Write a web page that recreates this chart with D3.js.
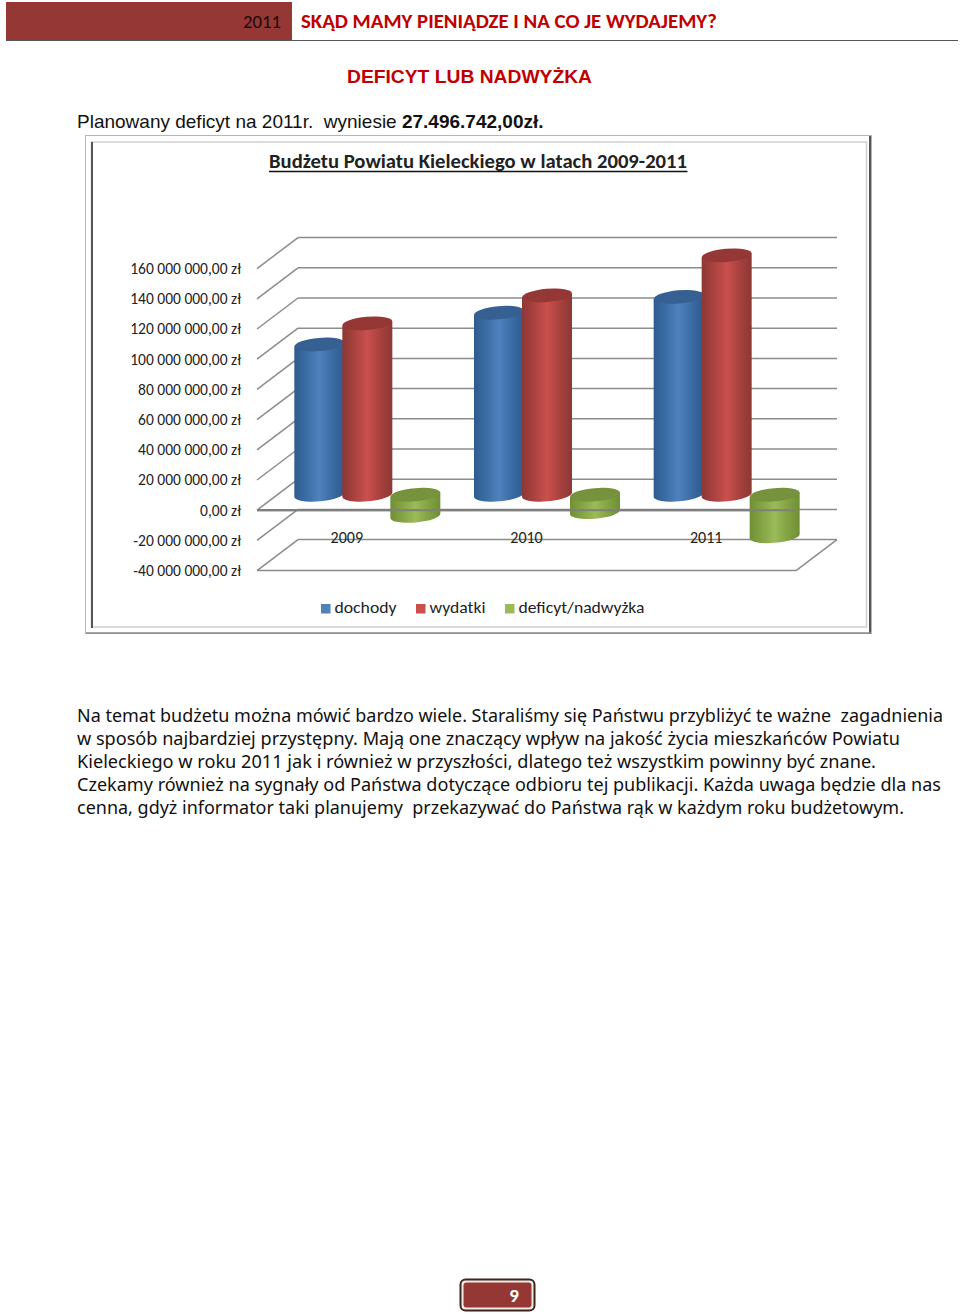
<!DOCTYPE html>
<html><head><meta charset="utf-8">
<script src="https://cdn.jsdelivr.net/npm/d3@7"></script>
<style>html,body{margin:0;padding:0;background:#fff}svg{display:block}</style></head>
<body><svg id="c" width="960" height="1316"></svg>
<script>
const years = ["2009","2010","2011"];
const seriesNames = ["dochody","wydatki","deficyt/nadwyżka"];
const dochody = [99.5,120.5,131];
const wydatki = [113.5,132,158.5];
const deficyt = [-14,-11.5,-27.5];
const tickValues = [160,140,120,100,80,60,40,20,0,-20,-40];
const tickLabels = ["160 000 000,00 zł","140 000 000,00 zł","120 000 000,00 zł","100 000 000,00 zł","80 000 000,00 zł","60 000 000,00 zł","40 000 000,00 zł","20 000 000,00 zł","0,00 zł","-20 000 000,00 zł","-40 000 000,00 zł"];
const bodyLines = [
"Na temat budżetu można mówić bardzo wiele. Staraliśmy się Państwu przybliżyć te ważne  zagadnienia",
"w sposób najbardziej przystępny. Mają one znaczący wpływ na jakość życia mieszkańców Powiatu",
"Kieleckiego w roku 2011 jak i również w przyszłości, dlatego też wszystkim powinny być znane.",
"Czekamy również na sygnały od Państwa dotyczące odbioru tej publikacji. Każda uwaga będzie dla nas",
"cenna, gdyż informator taki planujemy  przekazywać do Państwa rąk w każdym roku budżetowym."];
const bodyWidths = [866,823,799,864,827];

const svg = d3.select("#c");
const defs = svg.append("defs");
const CAL = "Carlito, Lato, 'Open Sans', sans-serif";
const BODY = "'Noto Sans','DejaVu Sans',sans-serif";
const ARIAL = "'Liberation Sans',Arial,sans-serif";

function fit(t,w){t.attr("textLength",w).attr("lengthAdjust","spacingAndGlyphs");return t;}

// header
svg.append("rect").attr("x",6).attr("y",2).attr("width",286).attr("height",38).attr("fill","#953735");
svg.append("line").attr("x1",6).attr("x2",958).attr("y1",40.5).attr("y2",40.5).attr("stroke","#555").attr("stroke-width",1);
fit(svg.append("text").attr("x",243).attr("y",28).attr("font-family",CAL).attr("font-size",18).attr("fill","#1a0a0a").text("2011"),38);
fit(svg.append("text").attr("x",301).attr("y",28).attr("font-family",CAL).attr("font-weight",700).attr("font-size",20).attr("fill","#c00000").text("SKĄD MAMY PIENIĄDZE I NA CO JE WYDAJEMY?"),416);
fit(svg.append("text").attr("x",347).attr("y",83).attr("font-family",ARIAL).attr("font-weight",700).attr("font-size",19).attr("fill","#c00000").text("DEFICYT LUB NADWYŻKA"),245);
const pl = svg.append("text").attr("x",77).attr("y",128).attr("font-family",ARIAL).attr("font-size",19).attr("fill","#111");
pl.append("tspan").text("Planowany deficyt na 2011r.  wyniesie ").attr("xml:space","preserve");
pl.append("tspan").attr("font-weight",700).text("27.496.742,00zł.");
pl.style("white-space","pre");

// frame
svg.append("rect").attr("x",85.5).attr("y",135.5).attr("width",786).attr("height",498).attr("fill","#fff").attr("stroke","#b5b5b5").attr("stroke-width",1);
svg.append("rect").attr("x",91.5).attr("y",142).attr("width",775).attr("height",485).attr("fill","#fff").attr("stroke","#d0d0d0").attr("stroke-width",1.5);
svg.append("line").attr("x1",92).attr("x2",92).attr("y1",142).attr("y2",628).attr("stroke","#555").attr("stroke-width",2);
svg.append("line").attr("x1",870).attr("x2",870).attr("y1",136).attr("y2",634).attr("stroke","#555").attr("stroke-width",2);
svg.append("line").attr("x1",86).attr("x2",871).attr("y1",633).attr("y2",633).attr("stroke","#888").attr("stroke-width",1.5);

// title
const title = fit(svg.append("text").attr("x",269).attr("y",168).attr("font-family",CAL).attr("font-size",20).attr("font-weight",700).attr("fill","#222").text("Budżetu Powiatu Kieleckiego w latach 2009-2011"),418);
svg.append("line").attr("x1",269).attr("x2",687.5).attr("y1",171.5).attr("y2",171.5).attr("stroke","#111").attr("stroke-width",1.6);

// scales (front plane of the 3D box)
const y = d3.scaleLinear().domain([-40,160]).range([570.6,268.6]);
const x = d3.scaleBand().domain(years).range([257,796]);
const sub = d3.scaleBand().domain(seriesNames).range([-72,72]);
const depthX = 41, depthY = 31;

const grid = svg.append("g").attr("fill","none").attr("stroke","#8c8c8c").attr("stroke-width",1.5);
tickValues.forEach(v=>{
  grid.append("line").attr("x1",257).attr("y1",y(v)).attr("x2",257+depthX).attr("y2",y(v)-depthY);
  grid.append("line").attr("x1",257+depthX).attr("y1",y(v)-depthY).attr("x2",796+depthX).attr("y2",y(v)-depthY);
});
grid.append("line").attr("x1",257).attr("y1",y(-40)).attr("x2",796).attr("y2",y(-40));
grid.append("line").attr("x1",796).attr("y1",y(-40)).attr("x2",796+depthX).attr("y2",y(-40)-depthY);
grid.append("line").attr("x1",257).attr("y1",y(0)).attr("x2",796).attr("y2",y(0)).attr("stroke-width",2.2).attr("stroke","#7f7f7f");

// axis labels
const axis = d3.axisLeft(y).tickValues(tickValues).tickSize(0).tickPadding(0).tickFormat(v=>tickLabels[tickValues.indexOf(v)]);
const ag = svg.append("g").attr("transform","translate(241,0)").call(axis);
ag.select(".domain").remove();
ag.selectAll("text").attr("font-family",CAL).attr("font-size",15.5).attr("fill","#222").attr("dy","0.32em").attr("textLength",null);

// gradients
const palette = {dochody:["#2f5b8f","#4f81bd","#366092","#37689f"],wydatki:["#8c3836","#c9504d","#953735","#a23f3c"],"deficyt/nadwyżka":["#6f8f35","#9bbb59","#76923c","#7f9f40"]};
seriesNames.forEach((n,i)=>{
  const g = defs.append("linearGradient").attr("id","g"+i).attr("x1",0).attr("x2",1).attr("y1",0).attr("y2",0);
  [[0,palette[n][0]],[.18,palette[n][3]],[.5,palette[n][1]],[.8,palette[n][3]],[1,palette[n][0]]].forEach(s=>g.append("stop").attr("offset",s[0]).attr("stop-color",s[1]));
});

const series = [dochody,wydatki,deficyt];
const R = 25, RY = 6.6, TILT = -5;
const cylinders = [];
years.forEach((yr,i)=>seriesNames.forEach((n,j)=>cylinders.push({yr,n,j,v:series[j][i]})));
const cg = svg.append("g");
// draw greens after red in left-to-right order, matching the front-to-back stack in picture
cylinders.forEach(d=>{
  const cx = x(d.yr)+x.bandwidth()/2 + depthX/2 + sub(d.n)+sub.bandwidth()/2;
  const y0 = y(0)-depthY/2, y1 = y(d.v)-depthY/2;
  const topY = Math.min(y0,y1), botY = Math.max(y0,y1);
  const dy = R*Math.tan(TILT*Math.PI/180);
  const lx = cx-R, rx = cx+R;
  const path = `M${lx},${topY-dy} L${rx},${topY+dy} L${rx},${botY+dy} A${R},${RY} ${TILT} 0 1 ${lx},${botY-dy} Z`;
  cg.append("path").attr("d",path).attr("fill",`url(#g${d.j})`);
  cg.append("ellipse").attr("cx",0).attr("cy",0).attr("rx",R).attr("ry",RY)
    .attr("transform",`translate(${cx},${topY}) rotate(${TILT})`).attr("fill",palette[d.n][2]);
});

// zero line over green cylinders
seriesNames.forEach(()=>{});
svg.append("line").attr("x1",257).attr("x2",796).attr("y1",y(0)).attr("y2",y(0)).attr("stroke","#7f7f7f").attr("stroke-width",2.2).attr("opacity",.9);

// category labels
years.forEach(yr=>{
  svg.append("text").attr("x",x(yr)+x.bandwidth()/2).attr("y",543).attr("text-anchor","middle").attr("font-family",CAL).attr("font-size",16).attr("fill","#222").text(yr);
});

// legend
const legendX = [321,416,505];
const legendTextW = [62,56,126];
seriesNames.forEach((n,i)=>{
  svg.append("rect").attr("x",legendX[i]).attr("y",604).attr("width",9.5).attr("height",9.5).attr("fill",palette[n][1]);
  fit(svg.append("text").attr("x",legendX[i]+13.5).attr("y",613).attr("font-family",CAL).attr("font-size",16).attr("fill","#222").text(n),legendTextW[i]);
});

// body
bodyLines.forEach((s,i)=>{
  fit(svg.append("text").attr("x",77).attr("y",722+i*23).attr("font-family",BODY).attr("font-size",18.5).attr("fill","#111").style("white-space","pre").text(s),bodyWidths[i]);
});

// page number
svg.append("rect").attr("x",460.5).attr("y",1279.5).attr("width",74).attr("height",31).attr("rx",5).attr("fill","#f2ece4").attr("stroke","#3d2520").attr("stroke-width",2);
svg.append("rect").attr("x",463.5).attr("y",1282.5).attr("width",68).attr("height",25).attr("rx",3).attr("fill","#953735");
svg.append("text").attr("x",514).attr("y",1302).attr("text-anchor","middle").attr("font-family",CAL).attr("font-weight",700).attr("font-size",19).attr("fill","#fff").text("9");
</script></body></html>
